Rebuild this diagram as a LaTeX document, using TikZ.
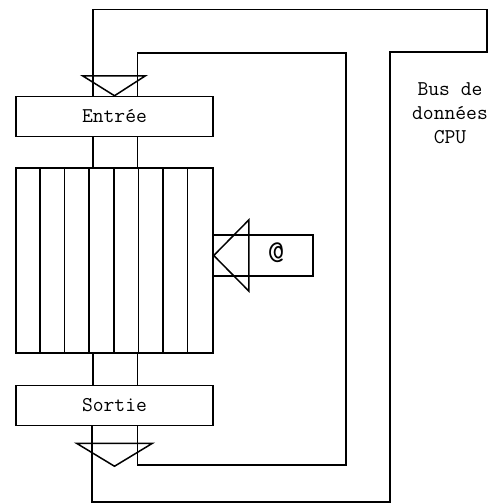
\documentclass[tikz,border=0pt]{standalone}
\usepackage{tikz}
\usetikzlibrary{calc}

\begin{document}
\begin{tikzpicture}[x=1pt, y=-1pt, bus/.style={line width=1.5pt, draw=black}, regbox/.style={draw, line width=1.5pt, minimum width=197pt, minimum height=40pt, inner sep=0pt, font=\fontsize{21}{25}\selectfont\ttfamily}, lbl/.style={font=\fontsize{21}{24}\selectfont\ttfamily, align=center, inner sep=0pt}
]
  \useasboundingbox (0,0) rectangle (491,504);
  \node[regbox] (entree) at (114.5,116.5) {Entrée};
  \node[regbox, minimum height=185pt] (reg) at (114.5,260.5) {};
  \node[regbox] (sortie) at (114.5,405.5) {Sortie};
  \node[regbox, minimum width=100pt, minimum height=41pt] (addr) at (263,255.5) {};
  \node[lbl, font=\fontsize{32}{32}\selectfont\ttfamily] (arob) at (276,253) {@};
  \node[lbl] (buslbl) at (450,113) {Bus de\\données\\CPU};
  \foreach \i in {1,...,7}
    \draw[bus] ($(reg.north west)+(\i*24.625,0)$) -- ($(reg.south west)+(\i*24.625,0)$);
  \draw[bus] ([xshift=-21.5pt]entree.south) -- ([xshift=-21.5pt]reg.north);
  \draw[bus] ([xshift=23pt]entree.south) -- ([xshift=23pt]reg.north);
  \draw[bus] ([xshift=-21.5pt]reg.south) -- ([xshift=-21.5pt]sortie.north);
  \draw[bus] ([xshift=23pt]reg.south) -- ([xshift=23pt]sortie.north);
  \draw[bus] ([xshift=-21.5pt]entree.north) |- (487,9.5) -- (487,52) -- (390,52) -- (390,502) -| ([xshift=-22.5pt]sortie.south);
  \draw[bus] ([xshift=23pt]entree.north) |- (346,53) -- (346,465) -| ([xshift=23pt]sortie.south);
  \draw[bus] (entree.north) -- ++(-32,-20) -- ++(63,0) -- cycle;
  \draw[bus] ($(sortie.south)+(-38,17)$) -- ++(76,0) -- ($(sortie.south)+(0,40)$) -- cycle;
  \draw[bus] (reg.east |- addr.west) -- ++(35,-35.5) -- ++(0,71) -- cycle;
\end{tikzpicture}
\end{document}
